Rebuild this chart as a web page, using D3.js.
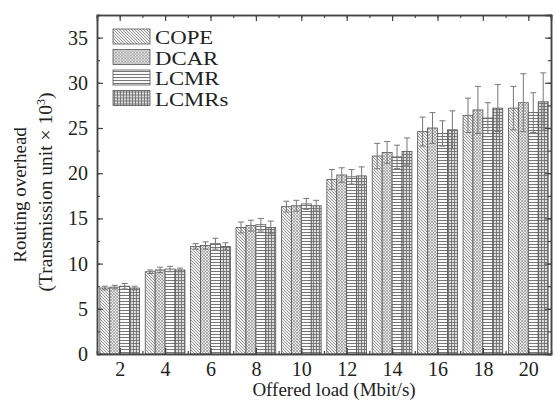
<!DOCTYPE html>
<html>
<head>
<meta charset="utf-8">
<script src="https://cdn.jsdelivr.net/npm/d3@7"></script>
<style>
  body { margin: 0; background: #fff; }
  svg { display: block; }
  text { font-family: "Liberation Serif", "Times New Roman", serif; fill: #222; }
</style>
</head>
<body>
<svg id="chart"></svg>
<script>
// offered load (Mbit/s)
const loads = [2, 4, 6, 8, 10, 12, 14, 16, 18, 20];
const seriesNames = ["COPE", "DCAR", "LCMR", "LCMRs"];

// routing overhead (x10^3)
const cope  = [7.3, 9.1, 11.9, 14.0, 16.3, 19.3, 21.9, 24.6, 26.4, 27.2];
const dcar  = [7.4, 9.3, 12.0, 14.2, 16.4, 19.8, 22.3, 25.0, 27.0, 27.8];
const lcmr  = [7.5, 9.4, 12.2, 14.3, 16.6, 19.6, 21.8, 24.4, 26.1, 26.7];
const lcmrs = [7.3, 9.3, 11.9, 14.0, 16.4, 19.7, 22.4, 24.8, 27.2, 27.9];

// error bar half-lengths
const copeErr  = [0.2, 0.2, 0.3, 0.6, 0.6, 1.1, 1.4, 1.6, 1.9, 2.4];
const dcarErr  = [0.2, 0.3, 0.4, 0.6, 0.6, 0.8, 1.2, 1.7, 2.6, 3.2];
const lcmrErr  = [0.3, 0.3, 0.6, 0.7, 0.6, 0.8, 1.3, 1.4, 1.7, 2.2];
const lcmrsErr = [0.2, 0.2, 0.4, 0.7, 0.6, 1.0, 1.5, 2.1, 2.6, 3.2];

const yTicks = [0, 5, 10, 15, 20, 25, 30, 35];

const values = [cope, dcar, lcmr, lcmrs];
const errors = [copeErr, dcarErr, lcmrErr, lcmrsErr];

let width = 555, height = 401;
let margin = { top: 15, right: 1, bottom: 47, left: 97 };

let svg = d3.select('#chart').attr('width', width).attr('height', height);

// patterns for the four series
let defs = svg.append('defs');

let p1 = defs.append('pattern').attr('id', 'pat0').attr('patternUnits', 'userSpaceOnUse')
    .attr('width', 3).attr('height', 3);
p1.append('rect').attr('width', 3).attr('height', 3).attr('fill', '#eee');
p1.append('path').attr('d', 'M0,0L3,3M-1,2L1,4M2,-1L4,1').attr('stroke', '#888').attr('stroke-width', 0.8);

let p2 = defs.append('pattern').attr('id', 'pat1').attr('patternUnits', 'userSpaceOnUse')
    .attr('width', 3).attr('height', 3);
p2.append('rect').attr('width', 3).attr('height', 3).attr('fill', '#e6e6e6');
p2.append('path').attr('d', 'M0,0L3,3M3,0L0,3').attr('stroke', '#999').attr('stroke-width', 0.7);

let p3 = defs.append('pattern').attr('id', 'pat2').attr('patternUnits', 'userSpaceOnUse')
    .attr('width', 4).attr('height', 3);
p3.append('rect').attr('width', 4).attr('height', 3).attr('fill', '#fafafa');
p3.append('path').attr('d', 'M0,1.5L4,1.5').attr('stroke', '#777').attr('stroke-width', 1);

let p4 = defs.append('pattern').attr('id', 'pat3').attr('patternUnits', 'userSpaceOnUse')
    .attr('width', 3).attr('height', 3);
p4.append('rect').attr('width', 3).attr('height', 3).attr('fill', '#ddd');
p4.append('path').attr('d', 'M0,1.5L3,1.5M1.5,0L1.5,3').attr('stroke', '#666').attr('stroke-width', 0.8);

let x = d3.scaleLinear().domain([1, 21]).range([margin.left, width - margin.right - 3]);
let y = d3.scaleLinear().domain([0, 37.5]).range([height - margin.bottom, margin.top]);

let groupW = x(1.75) - x(0);
let barW = groupW / 4;

// bars
let series = seriesNames.map((name, i) => ({
    name: name, i: i,
    points: loads.map((l, j) => ({ load: l, v: values[i][j], e: errors[i][j] }))
}));

let gBars = svg.append('g');
let sg = gBars.selectAll('g').data(series).enter().append('g');

sg.selectAll('rect')
    .data(d => d.points.map(p => ({ ...p, i: d.i })))
    .enter().append('rect')
    .attr('x', d => x(d.load) - groupW / 2 + d.i * barW)
    .attr('y', d => y(d.v))
    .attr('width', barW)
    .attr('height', d => y(0) - y(d.v))
    .attr('fill', d => 'url(#pat' + d.i + ')')
    .attr('stroke', '#555')
    .attr('stroke-width', 0.8);

// error bars
let eg = svg.append('g').attr('stroke', '#777').attr('stroke-width', 1);
series.forEach(s => {
    s.points.forEach(p => {
        let cx = x(p.load) - groupW / 2 + s.i * barW + barW / 2;
        eg.append('line').attr('x1', cx).attr('x2', cx)
            .attr('y1', y(p.v - p.e)).attr('y2', y(p.v + p.e));
        eg.append('line').attr('x1', cx - 3).attr('x2', cx + 3)
            .attr('y1', y(p.v + p.e)).attr('y2', y(p.v + p.e));
        eg.append('line').attr('x1', cx - 3).attr('x2', cx + 3)
            .attr('y1', y(p.v - p.e)).attr('y2', y(p.v - p.e));
    });
});

// axes, ticks pointing inward
let minorY = d3.range(0, 37.6, 2.5);
let minorX = d3.range(1, 22, 1);

function styleAxis(g) {
    g.selectAll('.domain').attr('stroke', '#444').attr('stroke-width', 1.5);
    g.selectAll('.tick line').attr('stroke', '#444').attr('stroke-width', 1.2);
}

let yAxis = svg.append('g')
    .attr('transform', 'translate(' + x(1) + ',0)')
    .call(d3.axisLeft(y).tickValues(yTicks).tickSizeInner(-6).tickSizeOuter(0).tickPadding(9));
yAxis.selectAll('text').attr('font-size', 20).attr('fill', '#222')
    .attr('font-family', '"Liberation Serif", "Times New Roman", serif');
styleAxis(yAxis);
svg.append('g').attr('transform', 'translate(' + x(1) + ',0)')
    .call(d3.axisLeft(y).tickValues(minorY).tickSize(-3).tickFormat(''))
    .call(styleAxis);

let yAxisR = svg.append('g')
    .attr('transform', 'translate(' + x(21) + ',0)')
    .call(d3.axisRight(y).tickValues(yTicks).tickSize(-6).tickFormat(''));
styleAxis(yAxisR);
svg.append('g').attr('transform', 'translate(' + x(21) + ',0)')
    .call(d3.axisRight(y).tickValues(minorY).tickSize(-3).tickFormat(''))
    .call(styleAxis);

let xAxis = svg.append('g')
    .attr('transform', 'translate(0,' + y(0) + ')')
    .call(d3.axisBottom(x).tickValues(loads).tickSizeInner(-6).tickSizeOuter(0).tickPadding(8));
xAxis.selectAll('text').attr('font-size', 20).attr('fill', '#222')
    .attr('font-family', '"Liberation Serif", "Times New Roman", serif');
styleAxis(xAxis);
svg.append('g').attr('transform', 'translate(0,' + y(0) + ')')
    .call(d3.axisBottom(x).tickValues(minorX).tickSize(-3).tickFormat(''))
    .call(styleAxis);

let xAxisT = svg.append('g')
    .attr('transform', 'translate(0,' + y(37.5) + ')')
    .call(d3.axisTop(x).tickValues(loads).tickSize(-6).tickFormat(''));
styleAxis(xAxisT);
svg.append('g').attr('transform', 'translate(0,' + y(37.5) + ')')
    .call(d3.axisTop(x).tickValues(minorX).tickSize(-3).tickFormat(''))
    .call(styleAxis);

// axis titles
svg.append('text')
    .attr('x', 334).attr('y', 396)
    .attr('text-anchor', 'middle')
    .attr('font-size', 19)
    .text('Offered load (Mbit/s)');

defs.append('clipPath').attr('id', 'clipY')
    .append('rect').attr('x', 14).attr('y', 0).attr('width', 60).attr('height', height);

let yt = svg.append('g').attr('clip-path', 'url(#clipY)');
yt.append('text')
    .attr('transform', 'translate(26,195) rotate(-90)')
    .attr('text-anchor', 'middle')
    .attr('font-size', 19)
    .text('Routing overhead');
let t2 = yt.append('text')
    .attr('transform', 'translate(52,192) rotate(-90)')
    .attr('text-anchor', 'middle')
    .attr('font-size', 19.5);
t2.append('tspan').text('(Transmission unit \u00d7 10');
t2.append('tspan').attr('dy', -7).attr('font-size', 12).text('3');
t2.append('tspan').attr('dy', 7).text(')');

// legend
let legend = svg.append('g')
    .selectAll('g')
    .data(series)
    .enter().append('g')
    .attr('transform', (d, i) => 'translate(113,' + (29 + i * 20.5) + ')');

legend.append('rect')
    .attr('width', 37).attr('height', 15)
    .attr('fill', d => 'url(#pat' + d.i + ')')
    .attr('stroke', '#555').attr('stroke-width', 0.8);

legend.append('text')
    .attr('transform', 'translate(42,15) scale(1.2,1)')
    .attr('font-size', 19)
    .text(d => d.name);
</script>
</body>
</html>
